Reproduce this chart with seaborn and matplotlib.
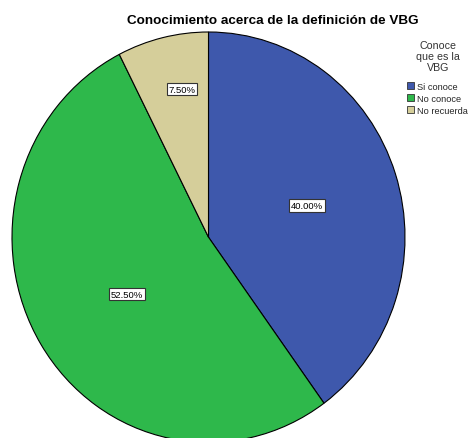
import matplotlib
matplotlib.use("Agg")
import matplotlib.pyplot as plt
import seaborn as sns

# Data
categories = ["Si conoce", "No conoce", "No recuerda"]
percentages = [40.00, 52.50, 7.50]
colors = ["#3E58AC", "#2EB84B", "#D5CE9A"]
# label anchor points inside each wedge (unit-radius coordinates)
label_positions = [(0.499, 0.154), (-0.417, -0.277), (-0.135, 0.722)]

sns.set_theme(style="white")
plt.rcParams["font.family"] = ["Liberation Sans", "DejaVu Sans"]

W, H = 469, 439
fig = plt.figure(figsize=(W / 100, H / 100), dpi=100)
fig.patch.set_facecolor("white")

# pie area (pixels): centre and horizontal / vertical radii
cx, cy, rx, ry = 208.5, 238.2, 196.5, 205.2
ax = fig.add_axes([(cx - rx) / W, (H - cy - ry) / H, 2 * rx / W, 2 * ry / H])

wedges, texts, autotexts = ax.pie(
    percentages,
    colors=colors,
    startangle=90,
    counterclock=False,
    radius=1.0,
    autopct="%.2f%%",
    wedgeprops=dict(edgecolor="black", linewidth=0.8),
    textprops=dict(fontsize=6.8, color="black"),
)
for t, pos in zip(autotexts, label_positions):
    t.set_position(pos)
    t.set_ha("center")
    t.set_va("center")
    t.set_bbox(dict(boxstyle="square,pad=0.2", facecolor="white", edgecolor="#333333", linewidth=0.8))

ax.set_xlim(-1, 1)
ax.set_ylim(-1, 1)
ax.set_aspect("auto")
ax.axis("off")

fig.text(273 / W, 1 - 21 / H, "Conocimiento acerca de la definición de VBG",
         ha="center", va="center", fontsize=9.7, fontweight="bold", color="black")

fig.text(438 / W, 1 - 57 / H, "Conoce\nque es la\nVBG", ha="center", va="center",
         fontsize=7.7, color="#333333", linespacing=1.15)

handles = [plt.Rectangle((0, 0), 1, 1, facecolor=c, edgecolor="#333333", linewidth=0.6) for c in colors]
leg = fig.legend(handles, categories, loc="upper left", bbox_to_anchor=(407 / W, 1 - 83 / H),
                 frameon=False, fontsize=6.7, handlelength=0.8, handleheight=0.85,
                 handletextpad=0.3, labelspacing=0.3, borderpad=0, borderaxespad=0)

fig.savefig("out.png", dpi=100, facecolor="white")
